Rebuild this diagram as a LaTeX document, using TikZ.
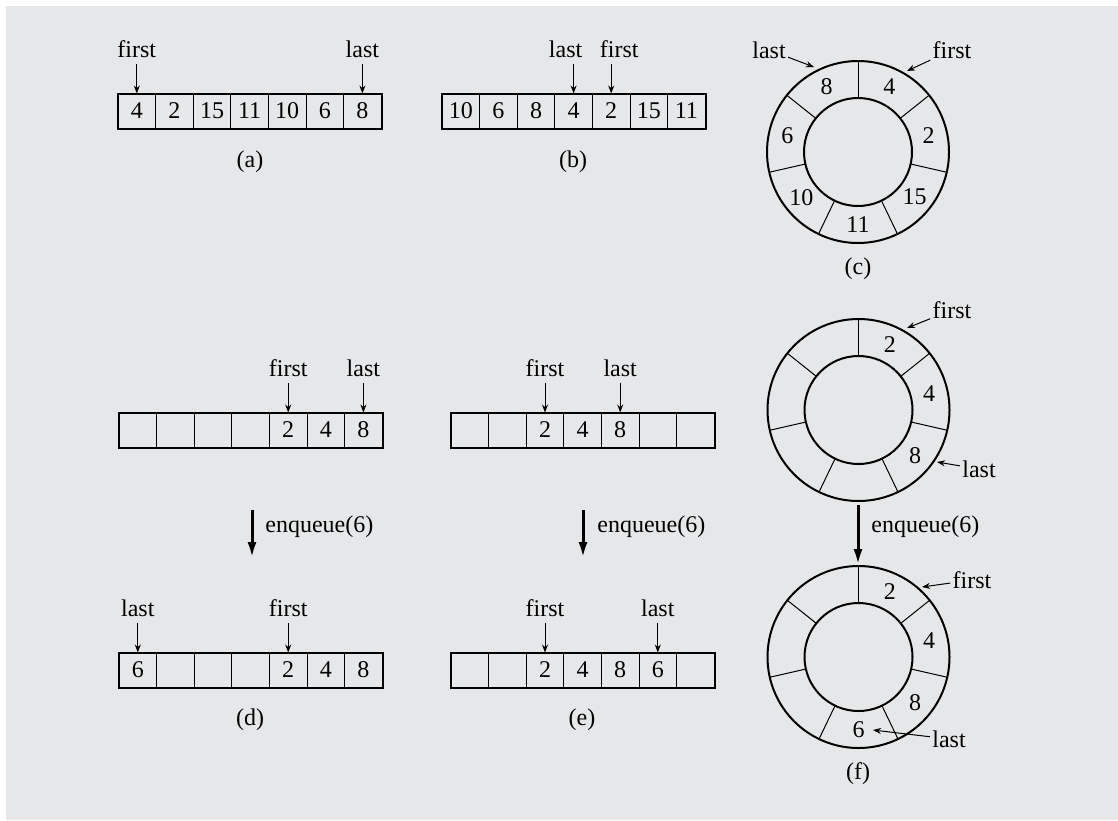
\documentclass[tikz,border=0pt]{standalone}
\usepackage{fontspec}
\setmainfont{Liberation Serif}
\usetikzlibrary{arrows.meta,calc}
\definecolor{panel}{RGB}{230,231,232}
\tikzset{
 cell/.style={draw, line width=0.5pt, minimum width=18.8pt, minimum height=17pt, inner sep=0pt, font=\fontsize{12}{14}\selectfont},
 box/.style={line width=1pt},
 ptr/.style={line width=0.5pt, -{Stealth[length=4pt,width=3pt]}},
 tag/.style={font=\fontsize{12}{14}\selectfont},
 rtag/.style={tag, inner sep=1pt},
 bigarrow/.style={line width=1.5pt, -{Latex[length=8pt,width=4.5pt]}},
 ringline/.style={line width=0.5pt},
 ringcirc/.style={line width=1pt},
}
\newcommand\qarr[4]{%
 \foreach \v [count=\i] in {#4} {\node[cell] (#1-\i) at ({#2+(\i-0.5)*37.6},{#3+17}) {\v};}
 \draw[box] (#1-1.north west) rectangle (#1-7.south east);}
\newcommand\qring[4]{%
 \coordinate (#1) at (#2,#3);
 \draw[ringcirc] (#1) circle[radius=45.5pt];
 \draw[ringcirc] (#1) circle[radius=27pt];
 \foreach \k in {0,...,6} {\draw[ringline] ([shift={({90-\k*360/7}:27pt)}]#1) -- ([shift={({90-\k*360/7}:45.5pt)}]#1);}
 \foreach \v [count=\i] in {#4} {\node[tag, inner sep=0pt] (#1-\i) at ([shift={({90-(\i-0.5)*360/7}:36.2pt)}]#1) {\v};}
}
\begin{document}
\begin{tikzpicture}[x=0.5pt,y=-0.5pt]
\useasboundingbox (0,0) rectangle (1118,820);
\fill[white] (0,0) rectangle (1118,820);
\fill[panel] (6,6) rectangle (1118,820);

% ---- arrays ----
\qarr{a}{118}{94}{4,2,15,11,10,6,8}
\qarr{b}{442}{94}{10,6,8,4,2,15,11}
\qarr{p}{119}{413}{{},{},{},{},2,4,8}
\qarr{q}{451}{413}{{},{},2,4,8,{},{}}
\qarr{d}{119}{653}{6,{},{},{},2,4,8}
\qarr{e}{451}{653}{{},{},2,4,8,6,{}}

% ---- array pointers ----
\node[tag, anchor=base] (a-first) at ([yshift=27pt]a-1) {first};
\node[tag, anchor=base] (a-last) at ([yshift=27pt]a-7) {last};
\draw[ptr] (a-first) -- (a-1);
\draw[ptr] (a-last) -- (a-7);
\node[tag, anchor=base] (b-last) at ([xshift=-4pt,yshift=27pt]b-4) {last};
\node[tag, anchor=base] (b-first) at ([xshift=4pt,yshift=27pt]b-5) {first};
\draw[ptr] (b-last.south -| b-4) -- (b-4);
\draw[ptr] (b-first.south -| b-5) -- (b-5);
\node[tag, anchor=base] (p-first) at ([yshift=27pt]p-5) {first};
\node[tag, anchor=base] (p-last) at ([yshift=27pt]p-7) {last};
\draw[ptr] (p-first) -- (p-5);
\draw[ptr] (p-last) -- (p-7);
\node[tag, anchor=base] (q-first) at ([yshift=27pt]q-3) {first};
\node[tag, anchor=base] (q-last) at ([yshift=27pt]q-5) {last};
\draw[ptr] (q-first) -- (q-3);
\draw[ptr] (q-last) -- (q-5);
\node[tag, anchor=base] (d-last) at ([yshift=27pt]d-1) {last};
\node[tag, anchor=base] (d-first) at ([yshift=27pt]d-5) {first};
\draw[ptr] (d-last) -- (d-1);
\draw[ptr] (d-first) -- (d-5);
\node[tag, anchor=base] (e-first) at ([yshift=27pt]e-3) {first};
\node[tag, anchor=base] (e-last) at ([yshift=27pt]e-6) {last};
\draw[ptr] (e-first) -- (e-3);
\draw[ptr] (e-last) -- (e-6);

% ---- rings ----
\qring{c}{858}{152}{4,2,15,11,10,6,8}
\qring{r}{858.5}{410}{2,4,8,{},{},{},{}}
\qring{f}{858.5}{657}{2,4,8,6,{},{},{}}

\node[rtag] (c-last) at (769,50) {last};
\coordinate (c-lastpt) at (814,67);
\draw[ptr] (c-last) -- (c-lastpt);
\node[rtag] (c-first) at (952,50) {first};
\coordinate (c-firstpt) at (907,71);
\draw[ptr] (c-first) -- (c-firstpt);

\node[rtag] (r-first) at (952,310) {first};
\coordinate (r-firstpt) at (907,328);
\draw[ptr] (r-first) -- (r-firstpt);
\node[rtag] (r-last) at (979,469) {last};
\coordinate (r-lastpt) at (937,462);
\draw[ptr] (r-last) -- (r-lastpt);

\node[rtag] (f-first) at (972,580) {first};
\coordinate (f-firstpt) at (922,587);
\draw[ptr] (f-first) -- (f-firstpt);
\node[rtag] (f-last) at (949,739) {last};
\coordinate (f-lastpt) at (873,730);
\draw[ptr] (f-last) -- (f-lastpt);

% ---- enqueue arrows ----
\coordinate (en1s) at (252,510); \coordinate (en1e) at (252,558);
\coordinate (en2s) at (583,510); \coordinate (en2e) at (583,558);
\coordinate (en3s) at (858,505); \coordinate (en3e) at (858,565);
\draw[bigarrow] (en1s) -- (en1e);
\draw[bigarrow] (en2s) -- (en2e);
\draw[bigarrow] (en3s) -- (en3e);
\node[tag, inner sep=0pt, anchor=base west] (en1) at (265,532) {enqueue(6)};
\node[tag, inner sep=0pt, anchor=base west] (en2) at (597,532) {enqueue(6)};
\node[tag, inner sep=0pt, anchor=base west] (en3) at (871,532) {enqueue(6)};

% ---- captions ----
\node[tag] (cap-a) at (250,162) {(a)};
\node[tag] (cap-b) at (573,162) {(b)};
\node[tag] (cap-c) at (858,269) {(c)};
\node[tag] (cap-d) at (250,720) {(d)};
\node[tag] (cap-e) at (582,720) {(e)};
\node[tag] (cap-f) at (858,774) {(f)};
\end{tikzpicture}
\end{document}
